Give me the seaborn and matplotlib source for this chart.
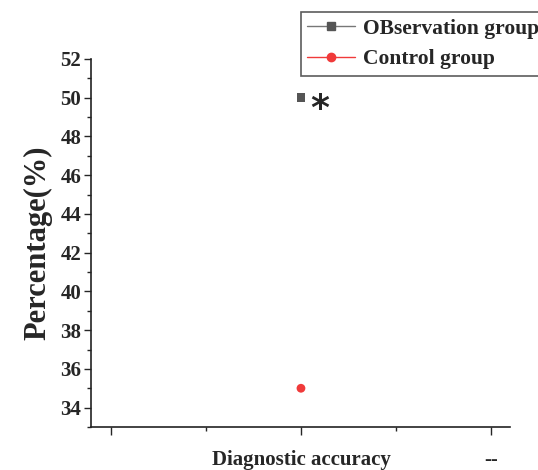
import matplotlib
matplotlib.use("Agg")
import matplotlib.pyplot as plt
import seaborn as sns
import pandas as pd
from matplotlib.lines import Line2D
from matplotlib.ticker import MultipleLocator

groups = ["OBservation group", "Control group"]
values = [50, 35]
categories = ["", "Diagnostic accuracy", "--"]
cat_index = [1, 1]
colors = ["#555555", "#f03a3a"]
markers = ["s", "o"]

sns.set_style("ticks")
plt.rcParams['font.family'] = ['Liberation Serif', 'DejaVu Serif']
plt.rcParams['font.weight'] = 'bold'

df = pd.DataFrame({"group": groups, "value": values, "x": cat_index})

fig = plt.figure(figsize=(5.38, 4.70), dpi=100)
ax = fig.add_axes([91/538, 1-427/470, (510-91)/538, (427-59)/470])

sns.scatterplot(data=df, x="x", y="value", hue="group", style="group",
                palette=dict(zip(groups, colors)), markers=dict(zip(groups, markers)),
                s=40, edgecolor="none", ax=ax, legend=False)

ax.set_xlim(-0.105, 2.1)
ax.set_ylim(33, 52)
ax.set_xticks([0, 1, 2])
ax.set_xticklabels(categories, fontsize=15, fontweight='bold')
ax.xaxis.set_minor_locator(MultipleLocator(0.5))
ax.yaxis.set_major_locator(MultipleLocator(2))
ax.yaxis.set_minor_locator(MultipleLocator(1))
ax.tick_params(axis='x', which='major', length=6, width=1, pad=10.5)
ax.tick_params(axis='x', which='minor', length=3, width=1)
ax.tick_params(axis='y', which='major', length=5, width=1, labelsize=15, pad=2)
ax.tick_params(axis='y', which='minor', length=3, width=1)
for lab in ax.get_yticklabels():
    lab.set_fontweight('bold')
ax.set_xlabel("")
ax.set_ylabel("Percentage(%)", fontsize=22, fontweight='bold', labelpad=6)
for s in ["top", "right"]:
    ax.spines[s].set_visible(False)
for s in ["left", "bottom"]:
    ax.spines[s].set_linewidth(1.2)
    ax.spines[s].set_color("#222222")

ax.text(1.1, 49.4, "*", fontsize=26, fontweight='bold', ha='center', va='center',
        family='DejaVu Sans')

handles = [Line2D([0], [0], color=c, marker=m, markersize=6, lw=1)
           for c, m in zip(colors, markers)]
handles[0].set_color("#777777"); handles[0].set_markerfacecolor(colors[0]); handles[0].set_markeredgecolor(colors[0])
leg = fig.legend(handles, groups, loc='upper left', bbox_to_anchor=(301/538, 1-12/470),
                 frameon=True, fancybox=False, edgecolor="#333333",
                 prop={'weight': 'bold', 'size': 15.5}, handlelength=2.2,
                 borderpad=0.3, labelspacing=0.5, handletextpad=0.4, borderaxespad=0)
leg.get_frame().set_linewidth(1.2)

fig.savefig("out.png", dpi=100)
